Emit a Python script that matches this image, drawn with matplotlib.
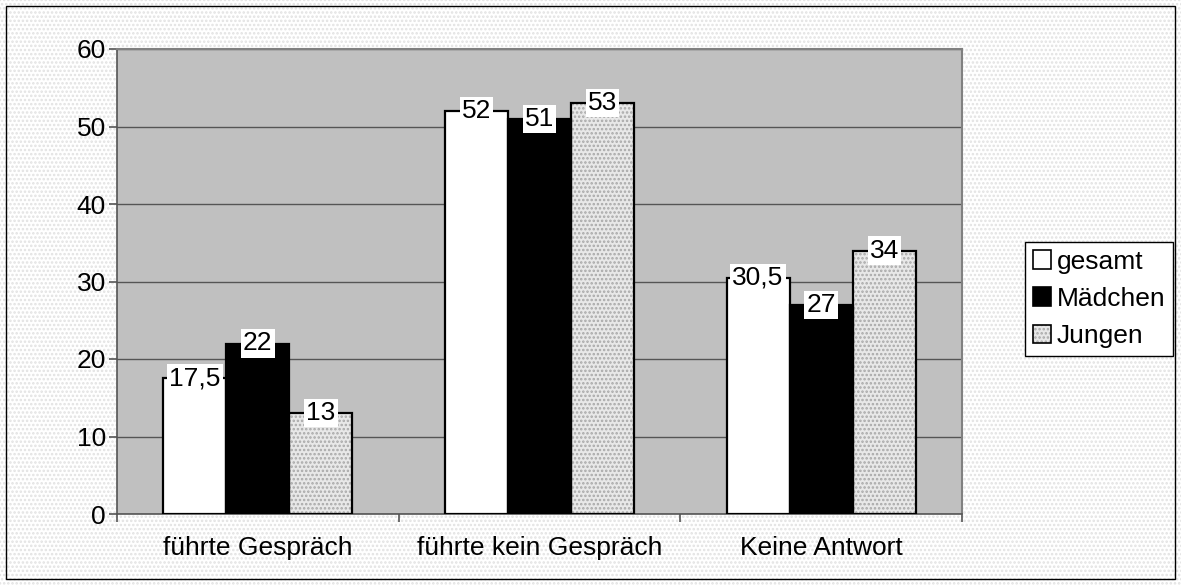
import numpy as np
import matplotlib.pyplot as plt
from matplotlib.patches import Rectangle, Patch
from matplotlib.legend_handler import HandlerTuple

plt.rcParams['font.family'] = ['Liberation Sans', 'DejaVu Sans']
plt.rcParams['hatch.linewidth'] = 1.2

# data
categories = ["führte Gespräch", "führte kein Gespräch", "Keine Antwort"]
series = ["gesamt", "Mädchen", "Jungen"]
gesamt = [17.5, 52, 30.5]
maedchen = [22, 51, 27]
jungen = [13, 53, 34]
values = [gesamt, maedchen, jungen]

FS = 19

fig = plt.figure(figsize=(11.81, 5.85), dpi=100)
fig.patch.set_facecolor('white')
# dotted background + outer frame
fig.patches.append(Rectangle((0, 0), 1, 1, transform=fig.transFigure,
                             facecolor='white', edgecolor='#e2e2e2', hatch='....',
                             linewidth=0, zorder=-10))
fig.patches.append(Rectangle((6 / 1181, 6 / 585), 1169 / 1181, 573 / 585,
                             transform=fig.transFigure, fill=False,
                             edgecolor='black', linewidth=1.0, zorder=-5))

ax = fig.add_axes([117 / 1181, 71 / 585, 845 / 1181, 465 / 585])
ax.set_facecolor('#c0c0c0')

x = np.arange(len(categories))
w = 0.224
offsets = [-w, 0, w]

for i, (name, vals) in enumerate(zip(series, values)):
    pos = x + offsets[i]
    if name == "Jungen":
        ax.bar(pos, vals, w, color='#e8e8e8', edgecolor='#a8a8a8', hatch='....',
               linewidth=0, zorder=3)
        ax.bar(pos, vals, w, fill=False, edgecolor='black', linewidth=1.6, zorder=4)
    else:
        fc = 'white' if name == "gesamt" else 'black'
        ax.bar(pos, vals, w, color=fc, edgecolor='black', linewidth=1.6, zorder=4)
    for p, v in zip(pos, vals):
        ax.text(p, v, str(v).replace('.', ','), ha='center', va='center',
                fontsize=FS, zorder=6,
                bbox=dict(facecolor='white', edgecolor='none', pad=1.5))

ax.set_ylim(0, 60)
ax.set_xlim(-0.5, 2.5)
ax.set_yticks(range(0, 61, 10))
ax.yaxis.grid(True, color='#555555', linewidth=1.0, zorder=1)
ax.set_axisbelow(True)

ax.set_xticks([-0.5, 0.5, 1.5, 2.5])
ax.set_xticklabels([])
ax.set_xticks(x, minor=True)
ax.set_xticklabels(categories, minor=True, fontsize=FS)
ax.tick_params(axis='x', which='minor', length=0, pad=16)
ax.tick_params(axis='x', which='major', length=6, color='#555555', width=1.2)
ax.tick_params(axis='y', length=6, color='#555555', width=1.2, labelsize=FS, pad=2)

for s in ['left', 'bottom']:
    ax.spines[s].set_color('#555555')
    ax.spines[s].set_linewidth(1.2)
for s in ['top', 'right']:
    ax.spines[s].set_color('#808080')
    ax.spines[s].set_linewidth(1.5)

handles = [
    Patch(facecolor='white', edgecolor='black', linewidth=1.2),
    Patch(facecolor='black', edgecolor='black', linewidth=1.2),
    (Patch(facecolor='#e8e8e8', edgecolor='#a8a8a8', hatch='....', linewidth=0),
     Patch(fill=False, edgecolor='black', linewidth=1.2)),
]
leg = fig.legend(handles, series, loc='center', bbox_to_anchor=(0.9306, 0.489),
                 fontsize=FS, frameon=True, fancybox=False, edgecolor='black',
                 framealpha=1, handlelength=0.7, handleheight=0.7,
                 handletextpad=0.2, labelspacing=0.5, borderpad=0.3,
                 borderaxespad=0, handler_map={tuple: HandlerTuple(ndivide=1)})
leg.get_frame().set_linewidth(1.0)

fig.savefig('out.png', dpi=100)
